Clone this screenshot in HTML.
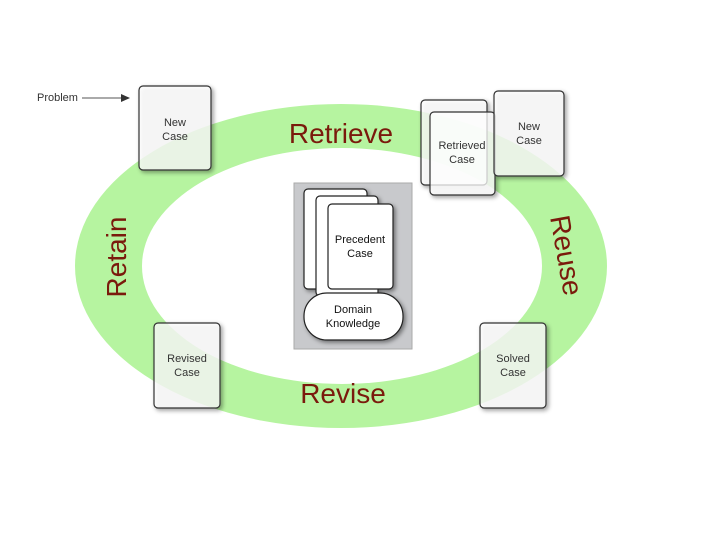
<!DOCTYPE html>
<html><head><meta charset="utf-8"><style>
body{margin:0;background:#fff;}
svg text{font-family:"Liberation Sans",sans-serif;}
</style></head><body>
<svg width="720" height="540" viewBox="0 0 720 540" xmlns="http://www.w3.org/2000/svg">
<defs>
<filter id="sh" x="-20%" y="-20%" width="150%" height="150%"><feDropShadow dx="2" dy="2" stdDeviation="2" flood-color="#000" flood-opacity="0.45"/></filter>
</defs>
<rect width="720" height="540" fill="#fff"/>
<ellipse cx="341" cy="266" rx="266" ry="162" fill="#b6f4a0"/>
<ellipse cx="342" cy="266" rx="200" ry="118" fill="#fff"/>
<g font-family="Liberation Sans" fill="#7a1a0c" font-size="28">
<text x="341" y="143" text-anchor="middle">Retrieve</text>
<text x="343" y="403" text-anchor="middle">Revise</text>
<text transform="translate(126,257) rotate(-90)" text-anchor="middle">Retain</text>
<text transform="translate(557,257) rotate(80)" text-anchor="middle">Reuse</text>
</g>
<text x="37" y="101" font-size="11" fill="#333">Problem</text>
<line x1="82" y1="98" x2="122" y2="98" stroke="#555" stroke-width="1"/>
<polygon points="130,98 121,94 121,102" fill="#333"/>
<g stroke="#333" stroke-width="1.2" filter="url(#sh)" fill="#fff" fill-opacity="0.75">
<rect x="139" y="86" width="72" height="84" rx="4"/>
<rect x="421" y="100" width="66" height="85" rx="4"/>
<rect x="430" y="112" width="65" height="83" rx="4"/>
<rect x="494" y="91" width="70" height="85" rx="4"/>
<rect x="154" y="323" width="66" height="85" rx="4"/>
<rect x="480" y="323" width="66" height="85" rx="4"/>
</g>
<rect x="294" y="183" width="118" height="166" fill="#c8c9cc" stroke="#aaa"/>
<g stroke="#222" stroke-width="1.2" fill="#fff" filter="url(#sh)">
<rect x="304" y="189" width="63" height="100" rx="4"/>
<rect x="316" y="196" width="62" height="100" rx="4"/>
<rect x="328" y="204" width="65" height="85" rx="4"/>
<rect x="304" y="293" width="99" height="47" rx="23"/>
</g>
<g font-size="11" fill="#333" text-anchor="middle">
<text x="175" y="126">New</text><text x="175" y="140">Case</text>
<text x="462" y="149">Retrieved</text><text x="462" y="163">Case</text>
<text x="529" y="130">New</text><text x="529" y="144">Case</text>
<text x="187" y="362">Revised</text><text x="187" y="376">Case</text>
<text x="513" y="362">Solved</text><text x="513" y="376">Case</text>
<text x="360" y="243" fill="#111">Precedent</text><text x="360" y="257" fill="#111">Case</text>
<text x="353" y="313" fill="#111">Domain</text><text x="353" y="327" fill="#111">Knowledge</text>
</g>
</svg>
</body></html>
